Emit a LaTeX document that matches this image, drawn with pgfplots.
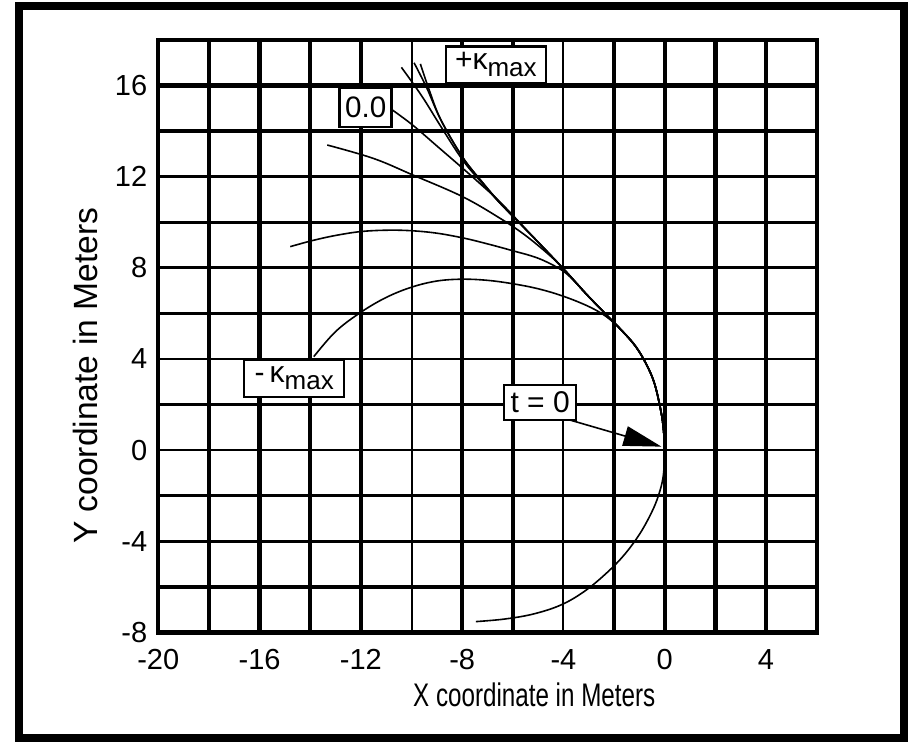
\documentclass[border=0pt]{standalone}
\usepackage{pgfplots}
\pgfplotsset{compat=1.18}
\usepackage{fontspec}
\setmainfont{Liberation Sans}
\usetikzlibrary{arrows.meta}
\begin{document}
\begin{tikzpicture}
\useasboundingbox (-79.15pt,-54.35pt) rectangle (375.85pt,316.15pt);
\begin{axis}[
  at={(0pt,0pt)}, anchor=south west,
  scale only axis, width=329.2pt, height=296.15pt,
  xmin=-20, xmax=6, ymin=-8, ymax=18,
  axis line style={line width=2.2pt},
  major tick length=0pt, minor tick length=0pt,
  xtick={-20,-16,-12,-8,0,4}, xticklabels={-20,-16,-12,-8,0,4},
  minor xtick={-18,-14,-6,-2,2},
  extra x ticks={-10,-4}, extra x tick labels={,-4},
  extra x tick style={every axis x grid/.append style={line width=1pt}},
  ytick={-8,-4,0,4,8,12,16}, yticklabels={-8,-4,0,4,8,12,16},
  minor ytick={-6,-2,2,6,10,14},
  extra y ticks={-6,14,16}, extra y tick labels={},
  extra y tick style={every axis y grid/.append style={line width=2.2pt}},
  xmajorgrids, xminorgrids, ymajorgrids, yminorgrids,
  every axis x grid/.style={black, line width=2.2pt},
  every axis y grid/.style={black, line width=1.4pt},
  xticklabel style={font=\fontsize{14.5}{14.5}\selectfont, yshift=-5pt},
  yticklabel style={font=\fontsize{14.5}{14.5}\selectfont, xshift=-2pt},
  xlabel={\scalebox{1}[1.35]{X coordinate in Meters}},
  xlabel style={at={(axis description cs:0.571,-0.1261)}, anchor=base, font=\fontsize{12.1}{12.1}\selectfont},
  ylabel={Y coordinate in Meters},
  ylabel style={at={(axis description cs:-0.0931,0.433)}, anchor=base, font=\fontsize{16.8}{16.8}\selectfont},
]
% -kappa_max (upper part)
\addplot[black, line width=0.8pt, smooth, tension=0.6] coordinates {
(0,0) (-0.05,0.9) (-0.15,1.7) (-0.4,2.9) (-0.72,3.75) (-1.15,4.55) (-1.7,5.25)
(-2.3,5.85) (-3.0,6.3) (-4.0,6.75) (-5.0,7.08) (-6.0,7.3) (-7.0,7.45) (-8.0,7.5)
(-9.0,7.42) (-10.0,7.15) (-11.0,6.7) (-12.0,6.05) (-13.0,5.2) (-13.86,4.1)};
% lower arc
\addplot[black, line width=0.8pt, smooth, tension=0.6] coordinates {
(0,0) (-0.06,-1.15) (-0.25,-2.0) (-0.53,-2.76) (-1.0,-3.7) (-1.6,-4.6) (-2.3,-5.4)
(-3.17,-6.2) (-4.1,-6.8) (-5.2,-7.2) (-6.34,-7.42) (-7.46,-7.53)};
% B
\addplot[black, line width=0.8pt, smooth, tension=0.6] coordinates {
(0,0) (-0.05,0.9) (-0.15,1.7) (-0.4,2.9) (-0.72,3.75) (-1.15,4.55) (-1.7,5.25)
(-2.3,5.93) (-3.1,6.85) (-3.6,7.45) (-4.1,7.92) (-5.0,8.42) (-6.07,8.77) (-7.0,9.05)
(-7.92,9.3) (-9.0,9.52) (-10.03,9.63) (-11.0,9.65) (-12.01,9.59) (-13.0,9.42)
(-13.9,9.2) (-14.79,8.93)};
% C
\addplot[black, line width=0.8pt, smooth, tension=0.6] coordinates {
(0,0) (-0.05,0.9) (-0.15,1.7) (-0.4,2.9) (-0.72,3.75) (-1.15,4.55) (-1.7,5.25)
(-2.3,5.93) (-3.1,6.85) (-4.02,7.98) (-4.6,8.6) (-5.5,9.42) (-6.47,10.15)
(-7.98,11.12) (-9.96,12.08) (-11.5,12.8) (-13.33,13.39)};
% D (0.0)
\addplot[black, line width=0.8pt, smooth, tension=0.6] coordinates {
(0,0) (-0.05,0.9) (-0.15,1.7) (-0.4,2.9) (-0.72,3.75) (-1.15,4.55) (-1.7,5.25)
(-2.3,5.93) (-3.1,6.85) (-4.02,7.98) (-5.15,9.3) (-6.47,10.85) (-7.2,11.6)
(-7.98,12.37) (-9.0,13.35) (-9.96,14.27) (-10.76,14.93)};
% E
\addplot[black, line width=0.8pt, smooth, tension=0.6] coordinates {
(0,0) (-0.05,0.9) (-0.15,1.7) (-0.4,2.9) (-0.72,3.75) (-1.15,4.55) (-1.7,5.25)
(-2.3,5.93) (-3.1,6.85) (-4.02,7.98) (-5.15,9.3) (-6.47,10.8) (-7.2,11.7)
(-7.98,12.73) (-8.84,14.2) (-9.6,15.55) (-10.4,16.8)};
% F (+kappa_max)
\addplot[black, line width=0.8pt, smooth, tension=0.6] coordinates {
(0,0) (-0.05,0.9) (-0.15,1.7) (-0.4,2.9) (-0.72,3.75) (-1.15,4.55) (-1.7,5.25)
(-2.3,5.93) (-3.1,6.85) (-4.02,7.98) (-5.15,9.3) (-6.47,10.8) (-7.2,11.75)
(-7.98,12.85) (-8.84,14.49) (-9.4,15.9) (-9.9,17.0)};
\addplot[black, line width=0.8pt, smooth, tension=0.6] coordinates {
(-6.47,10.8) (-7.2,11.75) (-7.98,12.85) (-8.84,14.49) (-9.3,15.8) (-9.65,16.95)};
% labels
\node[draw, line width=1.2pt, fill=white, minimum width=50pt, minimum height=18.3pt, inner sep=0pt]
  at (axis cs:-6.67,16.91) {\fontsize{15}{15}\selectfont +κ\raisebox{-3.5pt}{\fontsize{13}{13}\selectfont max}};
\node[draw, line width=1.2pt, fill=white, minimum width=26pt, minimum height=19.5pt, inner sep=0pt]
  at (axis cs:-11.81,15.04) {\fontsize{14.8}{14.8}\selectfont 0.0};
\node[draw, line width=1.2pt, fill=white, minimum width=50pt, minimum height=18.5pt, inner sep=0pt]
  at (axis cs:-14.63,3.15) {\fontsize{15}{15}\selectfont -\,κ\raisebox{-3.5pt}{\fontsize{13}{13}\selectfont max}};
\node[draw, line width=1.2pt, fill=white, minimum width=36pt, minimum height=17.5pt, inner sep=0pt]
  at (axis cs:-4.92,2.09) {\fontsize{15}{15}\selectfont t = 0};
\draw[line width=0.8pt, -{Triangle[length=19pt,width=10pt]}] (axis cs:-3.75,1.32) -- (axis cs:-0.13,0.15);
\end{axis}
\draw[line width=4pt] (-69.65pt,-52.85pt) rectangle (372.85pt,313.15pt);
\end{tikzpicture}
\end{document}
